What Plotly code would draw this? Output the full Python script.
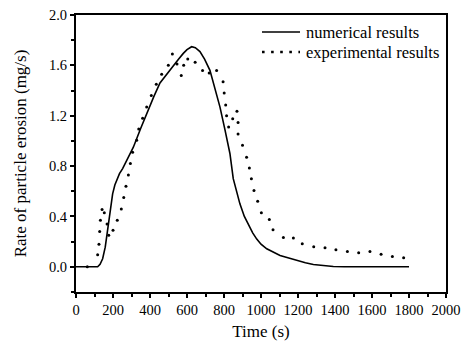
import plotly.graph_objects as go

# numerical results (solid line)
num_t = [0, 117, 130, 144, 158, 171, 186, 198, 210, 220, 235, 252, 280, 310, 350, 382, 420, 454, 490, 526,
         555, 580, 600, 625, 645, 670, 695, 724, 750, 778, 805, 832, 850, 870, 886, 910, 932, 955, 977, 1000,
         1031, 1065, 1103, 1150, 1193, 1240, 1283, 1340, 1391, 1450, 1535, 1650, 1800]
num_v = [0, 0, 0.02, 0.064, 0.156, 0.29, 0.46, 0.58, 0.65, 0.69, 0.74, 0.78, 0.86, 0.95, 1.10, 1.22, 1.35, 1.46, 1.53, 1.60,
         1.65, 1.695, 1.725, 1.748, 1.74, 1.71, 1.65, 1.56, 1.43, 1.27, 1.09, 0.90, 0.70, 0.58, 0.50, 0.40, 0.33, 0.27, 0.22, 0.18,
         0.143, 0.115, 0.09, 0.07, 0.05, 0.032, 0.018, 0.007, 0.002, 0, 0, 0, 0]

# experimental results (dots)
exp_t = [61, 117, 124, 128, 132, 141, 153, 168, 177, 200, 223, 245, 258, 270, 283, 294, 306, 328, 339, 360,
         382, 407, 434, 463, 499, 521, 546, 569, 582, 604, 644, 684, 720, 760, 795, 801, 809, 814, 825, 847,
         870, 876, 876, 900, 922, 937, 948, 962, 982, 1002, 1045, 1065, 1121, 1175, 1223, 1285, 1346, 1405, 1467, 1528,
         1589, 1649, 1710, 1771]
exp_v = [0, 0.095, 0.18, 0.28, 0.37, 0.456, 0.43, 0.34, 0.25, 0.29, 0.37, 0.46, 0.55, 0.64, 0.73, 0.82, 0.91, 1.005, 1.095, 1.18,
         1.27, 1.36, 1.45, 1.53, 1.60, 1.69, 1.61, 1.52, 1.60, 1.65, 1.625, 1.56, 1.54, 1.56, 1.47, 1.38, 1.285, 1.20, 1.11, 1.175,
         1.235, 1.146, 1.055, 0.965, 0.87, 0.785, 0.70, 0.607, 0.52, 0.43, 0.376, 0.294, 0.233, 0.228, 0.183, 0.159, 0.151, 0.135, 0.122, 0.111,
         0.122, 0.10, 0.082, 0.072]

legend_labels = ["numerical results", "experimental results"]

FONT = "Liberation Serif"

fig = go.Figure()
fig.add_trace(go.Scatter(x=num_t, y=num_v, mode="lines", name=legend_labels[0], showlegend=False,
                         line=dict(color="black", width=1.6)))
fig.add_trace(go.Scatter(x=exp_t, y=exp_v, mode="markers", name=legend_labels[1], showlegend=False,
                         marker=dict(color="black", size=3, symbol="circle")))

axis_common = dict(showline=True, linecolor="black", linewidth=2, mirror=True,
                   ticks="outside", ticklen=4, tickwidth=1.5, tickcolor="black",
                   showgrid=False, zeroline=False, automargin=False, ticklabeloverflow="allow",
                   tickfont=dict(family=FONT, size=14.5, color="black"))

fig.update_xaxes(range=[0, 2000], dtick=200, tick0=0,
                 minor=dict(dtick=100, ticks="outside", ticklen=3, tickwidth=1.5, tickcolor="black"),
                 title=dict(text="Time (s)", font=dict(family=FONT, size=17, color="black"), standoff=8),
                 **axis_common)
fig.update_yaxes(range=[-0.2, 2.0], dtick=0.4, tick0=0, tickformat=".1f",
                 minor=dict(dtick=0.2, ticks="outside", ticklen=3, tickwidth=1.5, tickcolor="black"),
                 title=dict(text="Rate of particle erosion (mg/s)", font=dict(family=FONT, size=17, color="black"), standoff=18),
                 **axis_common)

# manual legend (paper coordinates)
lx0, lx1, ltx = 0.5027, 0.6054, 0.6162
ly = [0.9386, 0.8664]
fig.add_shape(type="line", xref="paper", yref="paper", x0=lx0, x1=lx1, y0=ly[0], y1=ly[0],
              line=dict(color="black", width=1.6))
fig.add_shape(type="line", xref="paper", yref="paper", x0=lx0, x1=lx1, y0=ly[1], y1=ly[1],
              line=dict(color="black", width=2.6, dash="2.6px,6.5px"))
for lab, yy in zip(legend_labels, ly):
    fig.add_annotation(text=lab, xref="paper", yref="paper", x=ltx, y=yy, xanchor="left", yanchor="middle",
                       showarrow=False, font=dict(family=FONT, size=16.5, color="black"))

fig.update_layout(width=466, height=342, margin=dict(l=76, r=20, t=15, b=50),
                  paper_bgcolor="white", plot_bgcolor="white", showlegend=False)

fig.write_html("out.html", config={"displayModeBar": False},
               post_script="document.body.style.margin='0';document.body.style.overflow='hidden';")
